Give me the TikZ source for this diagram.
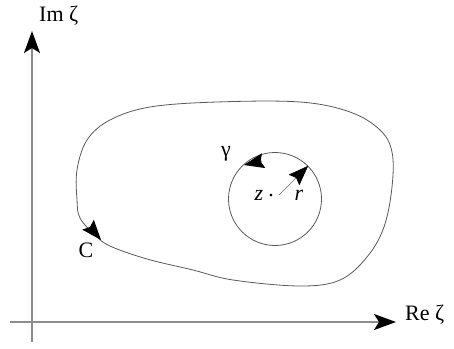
\documentclass[tikz,border=0pt]{standalone}
\usepackage{fontspec}
\setmainfont{Liberation Serif}
\usetikzlibrary{arrows.meta}
\begin{document}
\begin{tikzpicture}[x=1pt,y=-1pt,
  axisline/.style={draw=black!45,line width=1.6pt},
  curveline/.style={draw=black!65,line width=0.8pt},
  bigtip/.style={-{Stealth[length=22pt,width=16pt,inset=5pt,black]}},
  midtip/.style={-{Stealth[length=20pt,width=15pt,inset=3pt,black]}},
  lbl/.style={inner sep=0pt,font=\fontsize{22}{26}\selectfont}]
\useasboundingbox (0,0) rectangle (454,348);
% axes
\coordinate (vbot) at (32,342);
\coordinate (vtop) at (32,31);
\coordinate (hleft) at (10,322);
\coordinate (hright) at (396,322);
\draw[axisline,bigtip] (vbot) -- (vtop);
\draw[axisline,bigtip] (hleft) -- (hright);
\node[lbl,anchor=west] (im) at (39,16) {Im ζ};
\node[lbl,anchor=west] (re) at (405,315) {Re ζ};
% contour C
\draw[curveline] plot[smooth cycle,tension=0.6] coordinates {
  (77,170) (87,140) (110,120) (150,107) (217,102) (300,102) (350,112)
  (380,130) (392,152) (392,187) (384,227) (367,257) (340,280) (300,286)
  (233,280) (193,270) (147,259) (110,246) (95,235) (80,218) (77,200)};
\coordinate (ca) at (90,227);
\coordinate (cb) at (101,240);
\draw[curveline,midtip] (ca) -- (cb);
\node[lbl] (clab) at (86,250) {C};
% small circle gamma
\node[circle,curveline,minimum size=93pt,inner sep=0pt] (gam) at (275,199) {};
\coordinate (ga) at (262,161);
\coordinate (gb) at (244,165);
\draw[curveline,midtip] (ga) -- (gb);
\node[lbl] (glab) at (226,154) {γ};
% radius
\draw[draw=black!55,line width=0.6pt,midtip] (279,195) -- (gam.45);
\node[lbl] (zlab) at (259,195) {\itshape z};
\node[lbl] (dot) at (271,196) {.};
\node[lbl] (rlab) at (299,195) {\itshape r};
\end{tikzpicture}
\end{document}
